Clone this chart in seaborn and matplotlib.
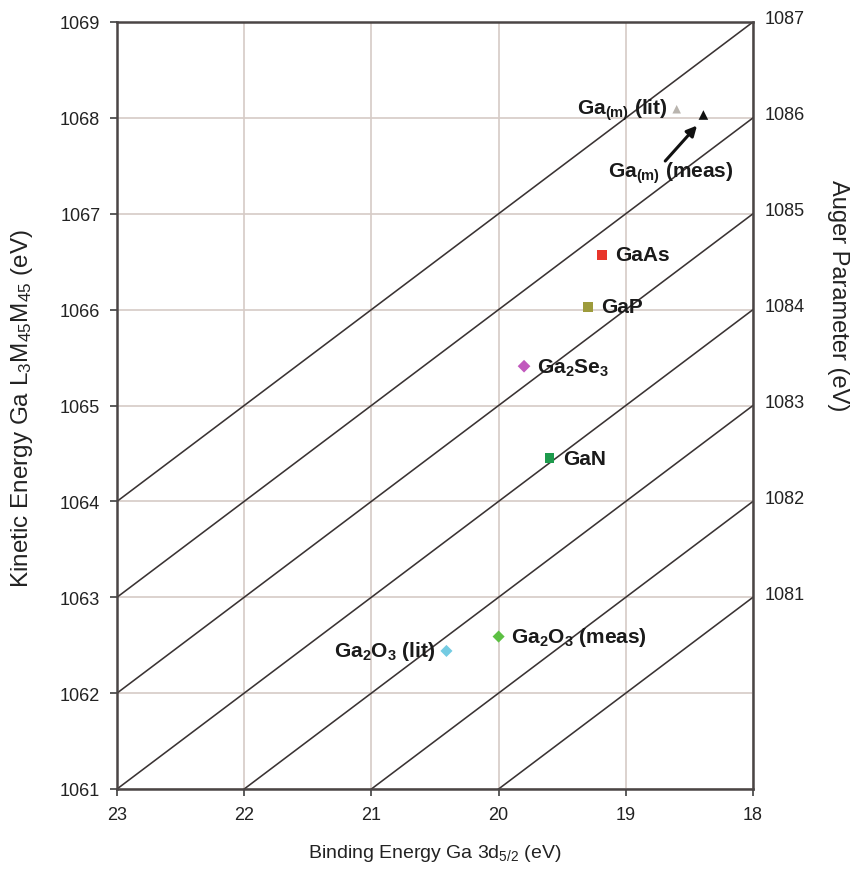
import matplotlib
matplotlib.use("Agg")
import matplotlib.pyplot as plt
import seaborn as sns
import numpy as np
import pandas as pd

# Measured / literature positions (binding energy Ga 3d5/2, kinetic energy Ga LMM)
compounds = ["Ga(m) (lit)", "Ga(m) (meas)", "GaAs", "GaP", "Ga2Se3", "GaN",
             "Ga2O3 (meas)", "Ga2O3 (lit)"]
binding_energy = [18.60, 18.39, 19.19, 19.30, 19.80, 19.60, 20.00, 20.41]
kinetic_energy = [1068.09, 1068.03, 1066.57, 1066.03, 1065.41, 1064.45, 1062.59, 1062.44]
colors = ["#b9b4ae", "#111111", "#e8352b", "#9d9b3c", "#c158bd", "#1d9a4c",
          "#5cc043", "#74cbe2"]
markers = ["^", "^", "s", "s", "D", "s", "D", "D"]
sizes = [38, 48, 50, 50, 42, 50, 38, 38]

# Constant Auger parameter lines (alpha' = KE + BE)
auger_params = [1081, 1082, 1083, 1084, 1085, 1086, 1087]

x_ticks = [23, 22, 21, 20, 19, 18]
y_ticks = [1061, 1062, 1063, 1064, 1065, 1066, 1067, 1068, 1069]

point_labels = [r"Ga$_{\mathbf{(m)}}$ (lit)", r"Ga$_{\mathbf{(m)}}$ (meas)", "GaAs", "GaP",
                r"Ga$_{\mathbf{2}}$Se$_{\mathbf{3}}$", "GaN",
                r"Ga$_{\mathbf{2}}$O$_{\mathbf{3}}$ (meas)", r"Ga$_{\mathbf{2}}$O$_{\mathbf{3}}$ (lit)"]

sns.set_theme(style="white")
plt.rcParams["font.family"] = ["Liberation Sans", "DejaVu Sans"]
plt.rcParams["mathtext.fontset"] = "custom"
plt.rcParams["mathtext.rm"] = "Liberation Sans"
plt.rcParams["mathtext.it"] = "Liberation Sans:italic"
plt.rcParams["mathtext.bf"] = "Liberation Sans:bold"

fig = plt.figure(figsize=(8.5, 8.7), dpi=100)
ax = fig.add_axes([117 / 850, 1 - 790 / 870, (753 - 117) / 850, (790 - 23) / 870])

# grid
ax.set_axisbelow(True)
ax.grid(True, color="#d6cbc6", linewidth=1.2)

# diagonal iso-Auger-parameter lines
be_span = np.array([17.5, 23.5])
line_df = pd.DataFrame({
    "BE": np.tile(be_span, len(auger_params)),
    "KE": np.concatenate([a - be_span for a in auger_params]),
    "alpha": np.repeat(auger_params, len(be_span)),
})
sns.lineplot(data=line_df, x="BE", y="KE", units="alpha", estimator=None,
             color="#3a3333", linewidth=1.15, ax=ax, legend=False, sort=False)

# data points
pts = pd.DataFrame({"BE": binding_energy, "KE": kinetic_energy, "name": compounds})
for i in range(len(pts)):
    sns.scatterplot(data=pts.iloc[[i]], x="BE", y="KE", color=colors[i],
                    marker=markers[i], s=sizes[i], edgecolor="none", ax=ax,
                    legend=False, zorder=5)

ax.set_xlim(23, 18)
ax.set_ylim(1061, 1069)
ax.set_xticks(x_ticks)
ax.set_yticks(y_ticks)
ax.tick_params(axis="both", direction="out", length=5, width=1.2, color="#404040",
               labelsize=13, labelcolor="#222222", pad=7, left=True, bottom=True)
for sp in ax.spines.values():
    sp.set_color("#4a4545")
    sp.set_linewidth(1.8)

ax.set_xlabel(r"Binding Energy Ga 3d$_{\mathrm{5/2}}$ (eV)", fontsize=14,
              color="#222222", labelpad=14)
ax.set_ylabel("")
fig.text(22 / 850, 1 - 409 / 870,
         r"Kinetic Energy Ga L$_{\mathrm{3}}$M$_{\mathrm{45}}$M$_{\mathrm{45}}$ (eV)",
         rotation=90, ha="center", va="center", fontsize=17.5, color="#222222")

# right-hand Auger parameter scale, placed at each line's right end
for a in auger_params:
    ax.text(1.019, (a - 18 - 1061) / 8 + 0.004, str(a), transform=ax.transAxes,
            ha="left", va="center", fontsize=13, color="#222222")
fig.text(838 / 850, 1 - 296 / 870, "Auger Parameter (eV)", rotation=-90, ha="center",
         va="center", fontsize=17, color="#222222")

# point labels (offsets in points)
label_style = dict(fontsize=15, fontweight="bold", color="#1a1a1a", va="center")
offsets = {
    0: ((-6.5, 0), "right"),
    2: ((10, 0), "left"),
    3: ((10, 0), "left"),
    4: ((9.5, -1), "left"),
    5: ((10, 0), "left"),
    6: ((9, 0), "left"),
    7: ((-8.5, 0), "right"),
}
for i, (off, ha) in offsets.items():
    ax.annotate(point_labels[i], (binding_energy[i], kinetic_energy[i]),
                xytext=off, textcoords="offset points", ha=ha, **label_style)

# arrow label for the measured metal point
ax.annotate(point_labels[1], (binding_energy[1], kinetic_energy[1]),
            xytext=(-95, -57), textcoords="offset pixels", ha="left", **label_style)
ax.annotate("", xy=(18.44, 1067.92), xytext=(18.69, 1067.55),
            arrowprops=dict(arrowstyle="-|>", color="#111111", lw=2.2,
                            mutation_scale=15, shrinkA=0, shrinkB=0))

fig.savefig("out.png", dpi=100)
